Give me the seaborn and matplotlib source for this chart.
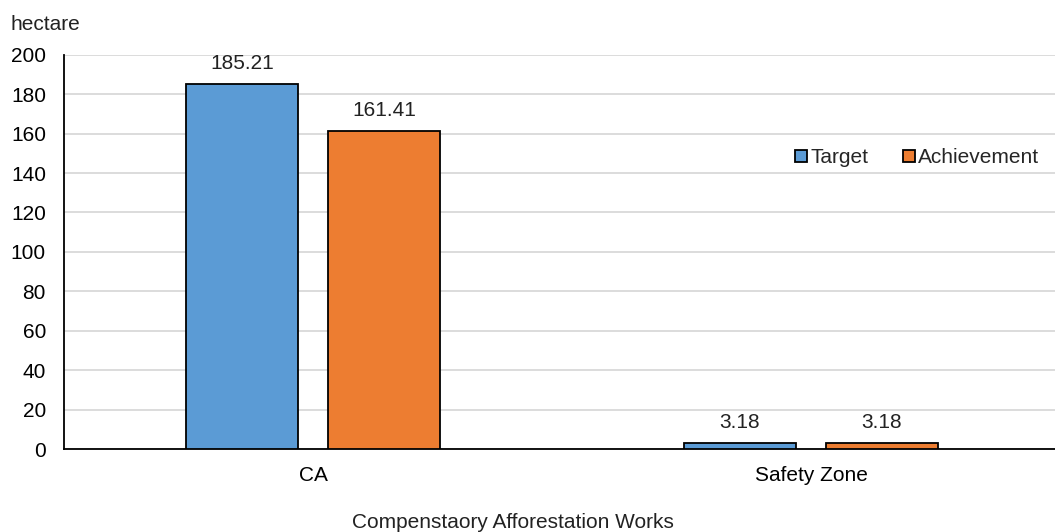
import pandas as pd
import matplotlib.pyplot as plt
import seaborn as sns
from matplotlib.lines import Line2D

categories = ['CA', 'Safety Zone']
series_names = ['Target', 'Achievement']
target = [185.21, 3.18]
achievement = [161.41, 3.18]
yticks = list(range(0, 201, 20))

df = pd.DataFrame({
    'category': categories * 2,
    'series': [series_names[0]] * 2 + [series_names[1]] * 2,
    'value': target + achievement,
})

sns.set_theme(style="white")
plt.rcParams['font.family'] = ['Liberation Sans', 'DejaVu Sans']

colors = {'Target': '#5b9bd5', 'Achievement': '#ed7d31'}
fs = 15

fig = plt.figure(figsize=(10.55, 5.32), dpi=100)
ax = fig.add_axes([0.0607, 0.156, 0.944, 0.741])

sns.barplot(data=df, x='category', y='value', hue='series', palette=colors,
            width=0.57, gap=0.21, edgecolor='black', linewidth=1.3,
            saturation=1, ax=ax, legend=False, zorder=3)

for cont in ax.containers:
    ax.bar_label(cont, labels=[f"{v:.2f}" for v in cont.datavalues],
                 padding=8, fontsize=fs, color='#222222')

ax.set_ylim(0, 200)
ax.set_xlim(-0.5, 1.5)
ax.set_yticks(yticks)
ax.yaxis.grid(True, color='#d9d9d9', linewidth=1.3, zorder=0)
ax.set_axisbelow(True)
for s in ['top', 'right']:
    ax.spines[s].set_visible(False)
ax.spines['left'].set_color('black')
ax.spines['left'].set_linewidth(1.3)
ax.spines['bottom'].set_color('black')
ax.spines['bottom'].set_linewidth(1.3)
ax.tick_params(axis='both', length=0, labelsize=fs, colors='black')
ax.tick_params(axis='x', pad=12)
ax.tick_params(axis='y', pad=13)
ax.set_ylabel('')
ax.set_xlabel('')

fig.text(513 / 1055, 1 - 522 / 532, 'Compenstaory Afforestation Works',
         fontsize=fs, ha='center', va='center', color='#222222')
fig.text(10 / 1055, 1 - 25 / 532, 'hectare', fontsize=fs, ha='left', va='center',
         color='#222222')

handles = [Line2D([], [], marker='s', linestyle='', markersize=8,
                  markerfacecolor=colors[n], markeredgecolor='black',
                  markeredgewidth=1.3) for n in series_names]
ax.legend(handles, series_names, loc='center', bbox_to_anchor=(0.856, 0.739),
          ncol=2, frameon=False, fontsize=fs, handletextpad=0.1,
          columnspacing=1.6, handlelength=0.7)

plt.savefig('out.png', dpi=100)
